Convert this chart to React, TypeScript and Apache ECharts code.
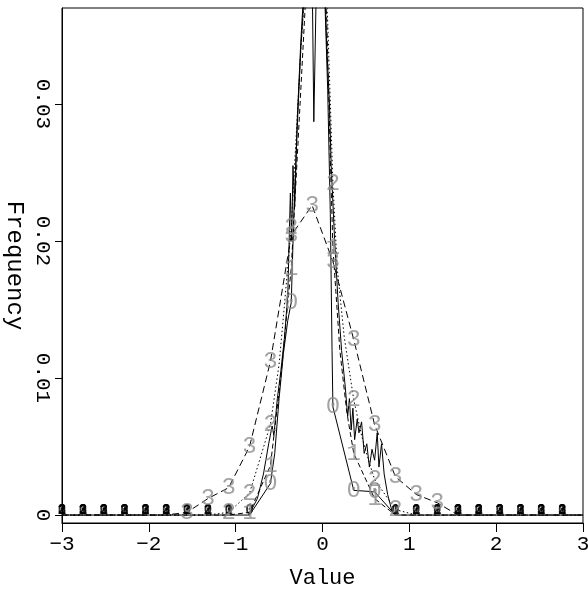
import React, { useEffect, useRef } from 'react';
import * as echarts from 'echarts';

// coarse grid where the labelled points sit
const X_GRID = [-3, -2.76, -2.52, -2.28, -2.04, -1.8, -1.56, -1.32, -1.08, -0.84, -0.6, -0.36, -0.12, 0.12, 0.36, 0.6, 0.84, 1.08, 1.32, 1.56, 1.8, 2.04, 2.28, 2.52, 2.76, 3];

// labelled series values on the coarse grid
const S0 = [0, 0, 0, 0, 0, 0, 0, 0, 0, 0, 0.0023, 0.0155, 0.040, 0.0079, 0.0018, 0.0017, 0, 0, 0, 0, 0, 0, 0, 0, 0, 0];
const S1 = [0, 0, 0, 0, 0, 0, 0, 0, 0, 0.0002, 0.0036, 0.018, 0.045, 0.0195, 0.0045, 0.0012, 0, 0, 0, 0, 0, 0, 0, 0, 0, 0];
const S2 = [0, 0, 0, 0, 0, 0, 0, 0, 0.0002, 0.0016, 0.0066, 0.021, 0.045, 0.0242, 0.0084, 0.0026, 0.0004, 0, 0, 0, 0, 0, 0, 0, 0, 0];
const S3 = [0, 0, 0, 0, 0, 0, 0.0002, 0.0012, 0.002, 0.005, 0.0112, 0.0204, 0.0226, 0.0185, 0.0128, 0.0066, 0.0028, 0.0015, 0.0009, 0, 0, 0, 0, 0, 0, 0];

// extra (unlabelled) points of the labelled series near the centre
const S0_EX_X = [-0.55, -0.5, -0.45, -0.4, -0.33, -0.3, -0.25, -0.2, -0.15, -0.1, -0.07, -0.02, 0.03, 0.06, 0.09, 0.11];
const S0_EX_Y = [0.0045, 0.0085, 0.0118, 0.0142, 0.022, 0.027, 0.034, 0.039, 0.043, 0.0287, 0.039, 0.041, 0.037, 0.031, 0.022, 0.012];
const S1_EX_X = [-0.5, -0.45, -0.4, -0.3, -0.25, -0.2, 0, 0.05, 0.09, 0.2, 0.28];
const S1_EX_Y = [0.009, 0.012, 0.0155, 0.025, 0.031, 0.037, 0.042, 0.036, 0.026, 0.012, 0.0075];
const S2_EX_X = [-0.5, -0.45, -0.3, -0.25, -0.2, 0, 0.06, 0.17, 0.25, 0.45, 0.52];
const S2_EX_Y = [0.011, 0.0145, 0.028, 0.034, 0.0385, 0.044, 0.036, 0.018, 0.013, 0.0058, 0.0042];

// unlabelled jagged solid curve
const J_X = [-0.85, -0.75, -0.68, -0.62, -0.58, -0.56, -0.52, -0.48, -0.44, -0.4, -0.37, -0.355, -0.34, -0.32, -0.29, -0.25, -0.21, -0.05, 0.02, 0.05, 0.08, 0.1, 0.14, 0.18, 0.22, 0.26, 0.29, 0.31, 0.33, 0.35, 0.37, 0.4, 0.42, 0.45, 0.48, 0.51, 0.54, 0.57, 0.6, 0.63, 0.65, 0.68, 0.71, 0.75, 0.8, 0.84];
const J_Y = [0, 0.0012, 0.003, 0.0052, 0.0065, 0.0058, 0.0085, 0.0105, 0.0128, 0.016, 0.0235, 0.02, 0.0255, 0.0225, 0.029, 0.0345, 0.039, 0.042, 0.04, 0.034, 0.03, 0.0255, 0.02, 0.0155, 0.012, 0.0095, 0.0072, 0.0085, 0.0062, 0.0078, 0.0055, 0.007, 0.006, 0.0068, 0.0045, 0.0052, 0.0035, 0.0048, 0.004, 0.006, 0.0035, 0.0052, 0.003, 0.0015, 0.0003, 0];

const Y_TICKS = [0, 0.01, 0.02, 0.03];
const Y_MIN = -0.00058;
const Y_MAX = 0.037;

const FONT = 'Liberation Mono';

function mergeLine(coarse: number[], exX: number[], exY: number[]) {
  const pts: number[][] = X_GRID.map((x, i) => [x, coarse[i]]);
  exX.forEach((x, i) => pts.push([x, exY[i]]));
  pts.sort((a, b) => a[0] - b[0]);
  return pts;
}

function labelData(coarse: number[]) {
  return X_GRID.map((x, i) => ({ x, y: coarse[i] }))
    .filter((p) => p.x < 2.9 && p.y <= Y_MAX)
    .map((p) => ({
      value: [p.x, p.y],
      label: p.y === 0
        ? { color: '#000', fontSize: 14, fontWeight: 'bold', offset: [0, -5] }
        : { color: '#8c8c8c', fontSize: 24 },
    }));
}

export default function App() {
  const ref = useRef<HTMLDivElement>(null);
  useEffect(() => {
    if (!ref.current) return;
    const chart = echarts.init(ref.current, undefined, { renderer: 'svg' });
    const lineDefs = [
      { data: mergeLine(S0, S0_EX_X, S0_EX_Y), type: 'solid' as any },
      { data: mergeLine(S1, S1_EX_X, S1_EX_Y), type: [5, 3] },
      { data: mergeLine(S2, S2_EX_X, S2_EX_Y), type: [1.5, 2.5] },
      { data: mergeLine(S3, [], []), type: [7, 4] },
    ];
    const digits = ['0', '1', '2', '3'];
    const coarse = [S0, S1, S2, S3];
    const series: any[] = [];
    lineDefs.forEach((d) => {
      series.push({
        type: 'line',
        data: d.data,
        symbol: 'none',
        clip: true,
        lineStyle: { color: '#000', width: 1, type: d.type },
        z: 2,
      });
    });
    series.push({
      type: 'line',
      data: J_X.map((x, i) => [x, J_Y[i]]),
      symbol: 'none',
      clip: true,
      lineStyle: { color: '#000', width: 1, type: 'solid' },
      z: 2,
    });
    coarse.forEach((c, i) => {
      series.push({
        type: 'scatter',
        data: labelData(c),
        symbol: 'circle',
        symbolSize: 1,
        itemStyle: { color: 'rgba(0,0,0,0)' },
        label: {
          show: true,
          position: 'inside',
          formatter: digits[i],
          fontFamily: FONT,
        },
        z: 3,
      });
    });
    chart.setOption({
      animation: false,
      grid: {
        left: 62, right: 5, top: 8, bottom: 67,
        outerBoundsMode: 'none', containLabel: false,
        show: true, borderColor: '#000', borderWidth: 1, backgroundColor: 'transparent',
      },
      xAxis: {
        type: 'value', min: -3, max: 3, interval: 1,
        axisLine: { show: true, onZero: false, lineStyle: { color: '#000', width: 1 } },
        axisTick: { show: true, length: 9, lineStyle: { color: '#000' } },
        axisLabel: {
          color: '#000', fontFamily: FONT, fontSize: 21, margin: 11,
          formatter: (v: number) => (v < 0 ? '\u2212' + Math.abs(v) : String(v)),
        },
        splitLine: { show: false },
        name: 'Value', nameLocation: 'middle', nameGap: 44,
        nameTextStyle: { color: '#000', fontFamily: FONT, fontSize: 22 },
      },
      yAxis: {
        type: 'value', min: Y_MIN, max: Y_MAX,
        axisLine: { show: true, onZero: false, lineStyle: { color: '#000', width: 1 } },
        axisTick: { show: true, length: 7, lineStyle: { color: '#000' }, customValues: Y_TICKS },
        axisLabel: {
          color: '#000', fontFamily: FONT, fontSize: 21, margin: 9, rotate: -90,
          customValues: Y_TICKS,
          formatter: (v: number) => (v === 0 ? '0' : v.toFixed(2)),
        },
        splitLine: { show: false },
        name: 'Frequency', nameLocation: 'middle', nameGap: 36, nameRotate: -90,
        nameMoveOverlap: false,
        nameTextStyle: { color: '#000', fontFamily: FONT, fontSize: 24 },
      },
      series,
    });
    return () => chart.dispose();
  }, []);
  return <div ref={ref} style={{ position: 'fixed', left: 0, top: 0, width: 588, height: 590 }} />;
}
